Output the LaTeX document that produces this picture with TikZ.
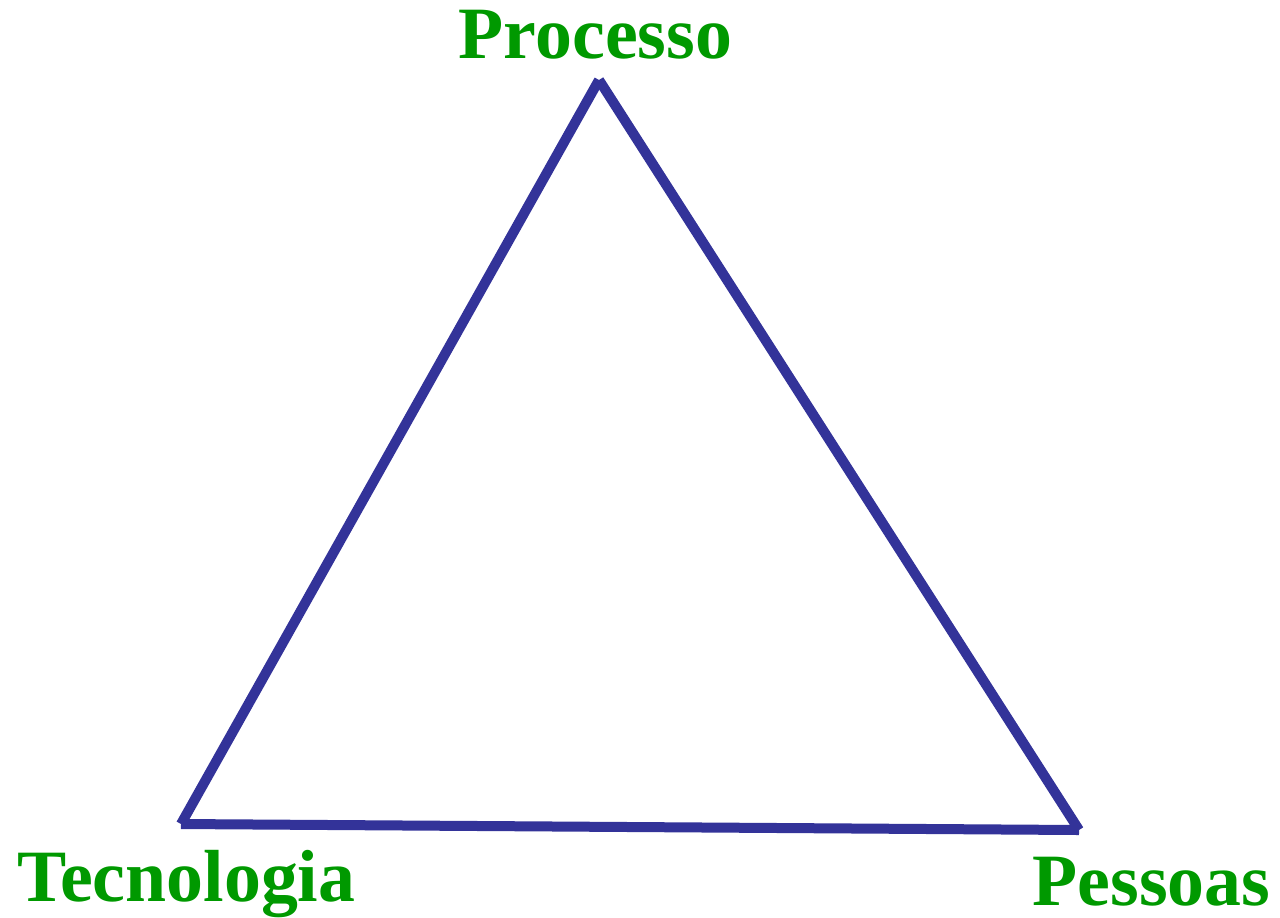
\documentclass[tikz,border=0pt]{standalone}
\usepackage{fontspec}
\setmainfont{Liberation Serif}
\definecolor{labelgreen}{RGB}{0,153,0}
\definecolor{edgeblue}{RGB}{51,51,153}
\begin{document}
\begin{tikzpicture}[
  font=\fontsize{21}{24}\selectfont\bfseries,
  corner/.style={text=labelgreen, anchor=base, inner sep=0pt},
  edge/.style={draw=edgeblue, line width=0.1cm, line cap=butt}
]
  \useasboundingbox (0,0) rectangle (12.8,9.17);
  \node[corner] (processo) at (5.955,8.58) {Processo};
  \node[corner] (tecnologia) at (1.865,0.16) {Tecnologia};
  \node[corner] (pessoas) at (11.515,0.12) {Pessoas};
  \coordinate (top) at (5.99,8.37);
  \coordinate (left) at (1.81,0.93);
  \coordinate (right) at (10.79,0.87);
  \draw[edge] (left) -- (top);
  \draw[edge] (top) -- (right);
  \draw[edge] (left) -- (right);
\end{tikzpicture}
\end{document}
